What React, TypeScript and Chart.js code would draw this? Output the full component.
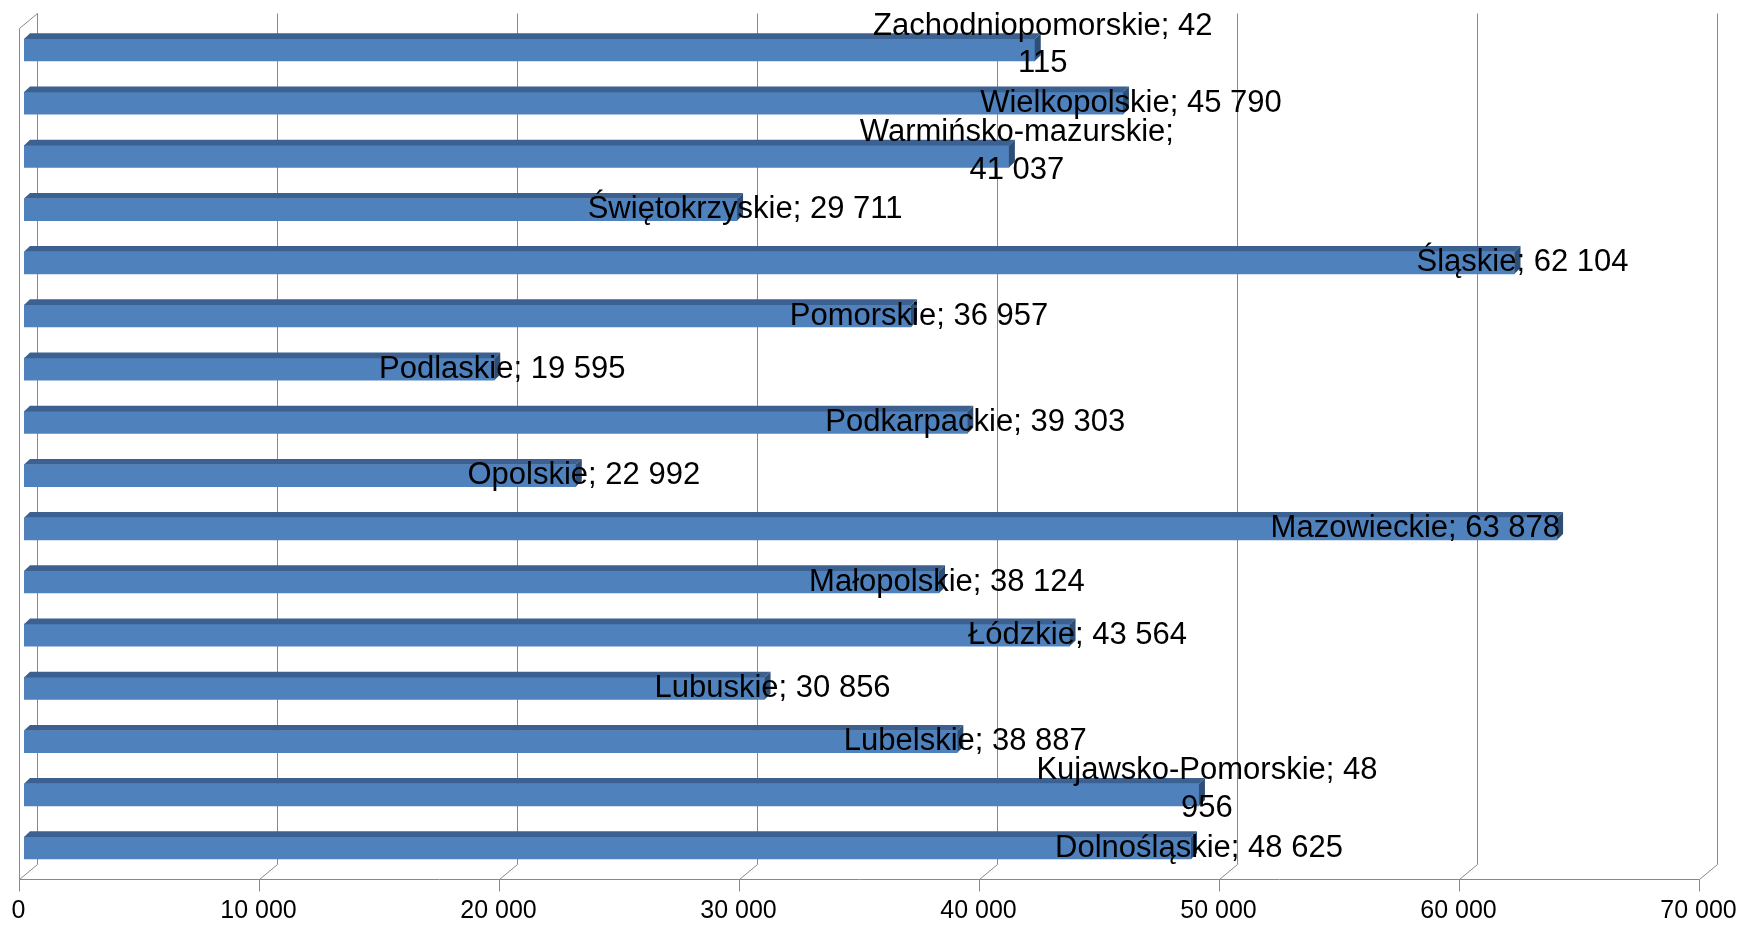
import React, { useEffect, useRef } from 'react';
import { Chart, registerables } from 'chart.js';

Chart.register(...registerables);

// ---- data ----
const regions: string[] = [
  'Dolnośląskie',
  'Kujawsko-Pomorskie',
  'Lubelskie',
  'Lubuskie',
  'Łódzkie',
  'Małopolskie',
  'Mazowieckie',
  'Opolskie',
  'Podkarpackie',
  'Podlaskie',
  'Pomorskie',
  'Śląskie',
  'Świętokrzyskie',
  'Warmińsko-mazurskie',
  'Wielkopolskie',
  'Zachodniopomorskie',
];
const values: number[] = [
  48625, 48956, 38887, 30856, 43564, 38124, 63878, 22992,
  39303, 19595, 36957, 62104, 29711, 41037, 45790, 42115,
];
const xTicks: number[] = [0, 10000, 20000, 30000, 40000, 50000, 60000, 70000];

// ---- style constants ----
const FONT = '"Liberation Sans", Arial, sans-serif';
const FRONT_DX = -5.5; // front plane offset from bar plane
const FRONT_DY = 4.8;
const DEPTH_X = 18.4; // wall depth
const DEPTH_Y = 15;
const BAR_DX = 6; // bar depth
const BAR_DY = 5.7;
const TICK_LEN = 12;
const GRID = '#898989';

const fmt = (v: number) => String(v).replace(/\B(?=(\d{3})+(?!\d))/g, ' ');

function wrap(ctx: CanvasRenderingContext2D, text: string, maxW: number): string[] {
  const words = text.split(' ');
  const lines: string[] = [];
  let cur = '';
  for (const w of words) {
    const test = cur ? cur + ' ' + w : w;
    if (cur && ctx.measureText(test).width > maxW) {
      lines.push(cur);
      cur = w;
    } else {
      cur = test;
    }
  }
  if (cur) lines.push(cur);
  return lines;
}

const c = (n: number) => Math.round(n) + 0.5;

const wallPlugin = {
  id: 'wall3d',
  beforeDatasetsDraw(chart: any) {
    const { ctx, chartArea: a } = chart;
    const x = chart.scales.x;
    const fTop = a.top + FRONT_DY;
    const fBot = a.bottom + FRONT_DY;
    const bTop = fTop - DEPTH_Y;
    const bBot = fBot - DEPTH_Y;
    const px = (v: number) => x.getPixelForValue(v) + FRONT_DX;
    ctx.save();
    ctx.strokeStyle = GRID;
    ctx.lineWidth = 1;
    ctx.beginPath();
    xTicks.forEach((v) => {
      const xf = px(v);
      const xb = xf + DEPTH_X;
      ctx.moveTo(c(xb), c(bTop));
      ctx.lineTo(c(xb), c(bBot));
      ctx.lineTo(c(xf), c(fBot));
      ctx.lineTo(c(xf), c(fBot + TICK_LEN));
    });
    const x0 = px(xTicks[0]);
    const x1 = px(xTicks[xTicks.length - 1]);
    ctx.moveTo(c(x0), c(fBot));
    ctx.lineTo(c(x1), c(fBot));
    ctx.moveTo(c(x0), c(fBot));
    ctx.lineTo(c(x0), c(fTop));
    ctx.lineTo(c(x0 + DEPTH_X), c(bTop));
    ctx.stroke();
    ctx.restore();
  },
};

const barFacesPlugin = {
  id: 'barFaces',
  afterDatasetsDraw(chart: any) {
    const { ctx } = chart;
    const meta = chart.getDatasetMeta(0);
    ctx.save();
    meta.data.forEach((bar: any) => {
      const { x: xe, y, base, height } = bar.getProps(['x', 'y', 'base', 'height'], true);
      const top = y - height / 2;
      const bot = y + height / 2;
      // top face
      ctx.fillStyle = '#3C6191';
      ctx.beginPath();
      ctx.moveTo(base, top);
      ctx.lineTo(xe, top);
      ctx.lineTo(xe + BAR_DX, top - BAR_DY);
      ctx.lineTo(base + BAR_DX, top - BAR_DY);
      ctx.closePath();
      ctx.fill();
      // end face
      ctx.fillStyle = '#2F4E76';
      ctx.beginPath();
      ctx.moveTo(xe, top);
      ctx.lineTo(xe + BAR_DX, top - BAR_DY);
      ctx.lineTo(xe + BAR_DX, bot - BAR_DY);
      ctx.lineTo(xe, bot);
      ctx.closePath();
      ctx.fill();
    });
    ctx.restore();
  },
};

const labelsPlugin = {
  id: 'barLabels',
  afterDraw(chart: any) {
    const { ctx } = chart;
    const meta = chart.getDatasetMeta(0);
    ctx.save();
    ctx.font = '31px ' + FONT;
    ctx.fillStyle = '#000000';
    ctx.textBaseline = 'middle';
    ctx.textAlign = 'center';
    const lh = 37.7;
    meta.data.forEach((bar: any, i: number) => {
      const text = `${regions[i]}; ${fmt(values[i])}`;
      const lines = wrap(ctx, text, 350);
      const w = Math.max(...lines.map((l) => ctx.measureText(l).width));
      let cx = bar.x + 8;
      if (cx + w / 2 > 1690) cx = bar.x + 3 - w / 2;
      const y0 = bar.y - (lines.length > 1 ? 5 : 0) - ((lines.length - 1) * lh) / 2;
      lines.forEach((l, k) => ctx.fillText(l, cx, y0 + k * lh));
    });
    ctx.restore();
  },
};

export default function App() {
  const ref = useRef<HTMLCanvasElement>(null);
  useEffect(() => {
    const chart = new Chart(ref.current as HTMLCanvasElement, {
      type: 'bar',
      data: {
        labels: regions,
        datasets: [
          {
            data: values,
            backgroundColor: '#4F81BD',
            borderWidth: 0,
            barThickness: 22,
          },
        ],
      },
      options: {
        animation: false,
        responsive: true,
        maintainAspectRatio: false,
        indexAxis: 'y',
        layout: { padding: { top: 23.4, left: 24, right: 38, bottom: 0 } },
        plugins: { legend: { display: false }, tooltip: { enabled: false } },
        scales: {
          y: { display: false, reverse: true },
          x: {
            type: 'linear',
            min: 0,
            max: 70000,
            afterBuildTicks: (scale: any) => {
              scale.ticks = xTicks.map((v) => ({ value: v }));
            },
            afterFit: (scale: any) => {
              scale.paddingLeft = 0;
              scale.paddingRight = 0;
              scale.paddingTop = 0;
              scale.paddingBottom = 0;
              scale.height = 52.4;
            },
            grid: { display: false, drawTicks: false, tickLength: 0 },
            border: { display: false },
            ticks: {
              color: '#000000',
              font: { family: FONT, size: 25 },
              padding: 22,
              labelOffset: FRONT_DX,
              maxRotation: 0,
              autoSkip: false,
              callback: (v: any) => fmt(Number(v)),
            },
          },
        },
      },
      plugins: [wallPlugin, barFacesPlugin, labelsPlugin],
    });
    return () => chart.destroy();
  }, []);
  return (
    <div style={{ position: 'absolute', left: 0, top: 0, width: 1742, height: 927 }}>
      <canvas ref={ref} />
    </div>
  );
}
